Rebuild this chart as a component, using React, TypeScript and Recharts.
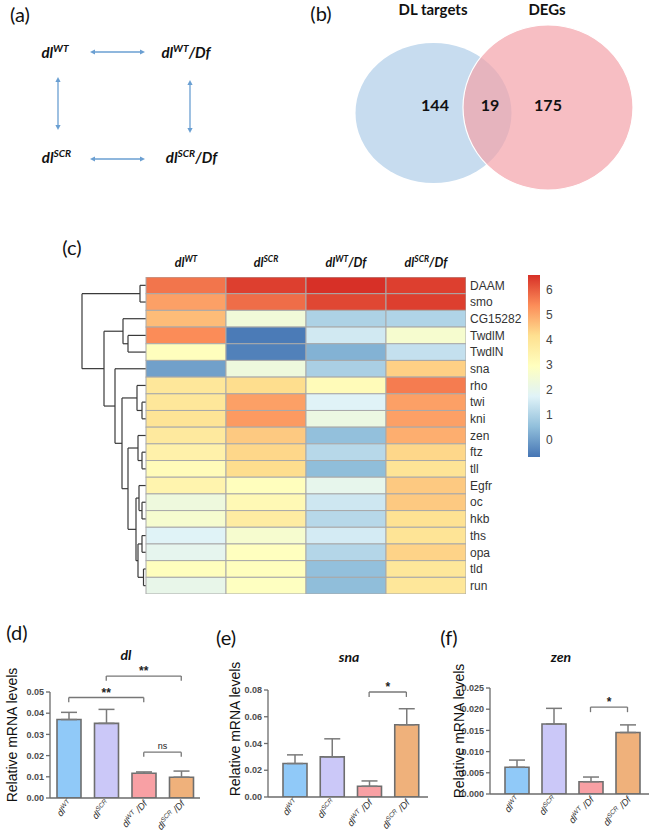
import React from 'react';
import {
  ScatterChart, Scatter, XAxis, YAxis, ReferenceLine, ReferenceDot,
  BarChart, Bar, ErrorBar, Cell,
} from 'recharts';

// ---------------- data ----------------
const genotypeKeys = ['WT', 'SCR', 'WT/Df', 'SCR/Df'];
const genotypeSup = ['WT', 'SCR', 'WT', 'SCR'];
const genotypeSuffix = ['', '', '/Df', '/Df'];

// (a) pairwise comparisons (genotype indices)
const comparisons: [number, number][] = [[0, 2], [0, 1], [2, 3], [1, 3]];

// (b) Venn
const vennSetNames = ['DL targets', 'DEGs'];
const vennCounts = [144, 19, 175];

// (c) heatmap
const genes = ['DAAM', 'smo', 'CG15282', 'TwdlM', 'TwdlN', 'sna', 'rho', 'twi', 'kni', 'zen', 'ftz', 'tll', 'Egfr', 'oc', 'hkb', 'ths', 'opa', 'tld', 'run'];
const heatWT = [5.7, 5.1, 4.7, 5.4, 3.0, 0.0, 3.9, 3.9, 4.0, 3.8, 3.5, 3.1, 3.4, 2.3, 2.6, 1.75, 1.95, 3.0, 2.05];
const heatSCR = [6.4, 5.8, 2.4, -0.6, -0.5, 2.3, 4.2, 5.1, 5.2, 4.5, 4.3, 4.2, 3.0, 3.2, 3.7, 2.6, 2.95, 3.0, 2.9];
const heatWTDf = [6.6, 6.3, 0.95, 1.5, 0.3, 0.9, 3.1, 1.75, 2.2, 0.55, 1.1, 0.5, 2.0, 1.45, 1.1, 1.55, 1.05, 0.55, 0.5];
const heatSCRDf = [6.4, 6.4, 1.0, 2.6, 1.3, 4.4, 5.6, 5.1, 5.1, 4.9, 4.3, 4.0, 4.5, 4.5, 4.1, 4.0, 4.35, 3.9, 3.9];
const colorDomain = [-0.7, 6.6];
const colorbarTicks = [0, 1, 2, 3, 4, 5, 6];
const colorStops = ['#4575b4', '#91bfdb', '#e0f3f8', '#ffffbf', '#fee090', '#fc8d59', '#d73027'];
// hclust-style merges: negative = leaf (row), positive = earlier merge; third = height
const dendroMerges: [number, number, number][] = [
  [-1, -2, 6], [-4, -5, 18], [-3, 2, 23], [-8, -9, 4], [-7, 4, 9], [-11, -12, 4],
  [-10, 6, 8], [-14, -15, 4], [-13, 8, 7], [-16, -17, 4], [-18, -19, 2.5], [10, 11, 8],
  [9, 12, 10], [7, 13, 18], [5, 14, 24], [-6, 15, 31], [3, 16, 42], [1, 17, 64],
];

// (d)-(f) qPCR
const dlMean = [0.037, 0.0352, 0.0117, 0.0098];
const dlErr = [0.0034, 0.0066, 0.0006, 0.0029];
const snaMean = [0.025, 0.030, 0.008, 0.054];
const snaErr = [0.0065, 0.0135, 0.004, 0.012];
const zenMean = [0.0063, 0.0165, 0.0029, 0.0145];
const zenErr = [0.0017, 0.0037, 0.0011, 0.0018];
const dlTicks = [0, 0.01, 0.02, 0.03, 0.04, 0.05];
const snaTicks = [0, 0.02, 0.04, 0.06, 0.08];
const zenTicks = [0, 0.005, 0.01, 0.015, 0.02, 0.025];
const dlBrackets = [
  { from: 'SCR', to: 'SCR/Df', y: 0.0575, mark: '**' },
  { from: 'WT', to: 'WT/Df', y: 0.0474, mark: '**' },
  { from: 'WT/Df', to: 'SCR/Df', y: 0.0216, mark: 'ns' },
];
const snaBrackets = [{ from: 'WT/Df', to: 'SCR/Df', y: 0.0785, mark: '*' }];
const zenBrackets = [{ from: 'WT/Df', to: 'SCR/Df', y: 0.0205, mark: '*' }];

// ---------------- styles ----------------
const FONT = '"Liberation Sans", Arial, sans-serif';
const FONT_C = 'Lato, "Open Sans", sans-serif';
const ARROW = '#6a9fd2';
const barColors = ['#90c9f8', '#cbc8f8', '#f8a0a4', '#efb17b'];

// ---------------- helpers ----------------
function hexToRgb(h: string) {
  return [1, 3, 5].map((i) => parseInt(h.slice(i, i + 2), 16));
}
function colorFor(v: number) {
  const [lo, hi] = colorDomain;
  const t = Math.max(0, Math.min(1, (v - lo) / (hi - lo))) * (colorStops.length - 1);
  const i = Math.min(colorStops.length - 2, Math.floor(t));
  const f = t - i;
  const a = hexToRgb(colorStops[i]);
  const b = hexToRgb(colorStops[i + 1]);
  const c = a.map((x, k) => Math.round(x + (b[k] - x) * f));
  return `rgb(${c[0]},${c[1]},${c[2]})`;
}

const genoTspans = (i: number, size: number, sep = '') => {
  const supSize = size * 0.68;
  const shift = size * 0.4;
  const out: any[] = [
    <tspan key="b">dl</tspan>,
    <tspan key="s" fontSize={supSize} dy={-shift}>{genotypeSup[i]}</tspan>,
  ];
  if (genotypeSuffix[i]) {
    out.push(<tspan key="f" fontSize={size} dy={shift}>{sep + genotypeSuffix[i]}</tspan>);
  }
  return out;
};

const Lbl = ({ x, y, children, style }: any) => (
  <div
    style={{
      position: 'absolute', left: x, top: y, transform: 'translate(-50%,-50%)',
      whiteSpace: 'nowrap', lineHeight: 1, ...style,
    }}
  >
    {children}
  </div>
);

// ---------------- (a) ----------------
const A_NODE_POS = [[55, 58], [56.5, 163], [186, 58], [191.5, 163]];
const A_ARROWS = [[90, 52, 145, 52], [58, 77, 58, 130], [190, 80, 190, 133], [90, 159, 145, 159]];

const ArrowShape = (p: any) => {
  const { x1, y1, x2, y2 } = p;
  const dx = x2 - x1;
  const dy = y2 - y1;
  const L = Math.hypot(dx, dy) || 1;
  const ux = dx / L;
  const uy = dy / L;
  const nx = -uy;
  const ny = ux;
  const hl = 5;
  const hw = 2.6;
  const head = (px: number, py: number, sx: number, sy: number) =>
    `${px},${py} ${px - sx * hl + nx * hw},${py - sy * hl + ny * hw} ${px - sx * hl - nx * hw},${py - sy * hl - ny * hw}`;
  return (
    <g>
      <line x1={x1 + ux * 3} y1={y1 + uy * 3} x2={x2 - ux * 3} y2={y2 - uy * 3} stroke={ARROW} strokeWidth={1.3} />
      <polygon points={head(x2, y2, ux, uy)} fill={ARROW} />
      <polygon points={head(x1, y1, -ux, -uy)} fill={ARROW} />
    </g>
  );
};

function PanelA() {
  const nodes = genotypeKeys.map((k, i) => ({ x: A_NODE_POS[i][0], y: A_NODE_POS[i][1], i }));
  return (
    <ScatterChart width={300} height={200} margin={{ top: 0, right: 0, bottom: 0, left: 0 }}>
      <XAxis type="number" dataKey="x" domain={[0, 300]} hide allowDataOverflow />
      <YAxis type="number" dataKey="y" domain={[0, 200]} reversed hide allowDataOverflow />
      {comparisons.map((c, k) => (
        <ReferenceLine
          key={k}
          segment={[{ x: A_ARROWS[k][0], y: A_ARROWS[k][1] }, { x: A_ARROWS[k][2], y: A_ARROWS[k][3] }]}
          ifOverflow="visible"
          shape={ArrowShape}
        />
      ))}
      <Scatter
        data={nodes}
        isAnimationActive={false}
        shape={(p: any) => (
          <text x={p.cx} y={p.cy} textAnchor="middle" fontFamily={FONT_C} fontWeight="bold" fontStyle="italic" fontSize={15} fill="#111">
            {genoTspans(p.payload.i, 15)}
          </text>
        )}
      />
    </ScatterChart>
  );
}

// ---------------- (b) ----------------
const VENN_POS = [[133.5, 113], [248, 107.5]];
const VENN_R = [[78, 70], [85, 82.5]];
const VENN_FILL = ['#c7dcef', '#f4a3a9'];
const VENN_OPACITY = [1, 0.7];
const VENN_TITLE_X = [133, 247];
const VENN_COUNT_X = [135, 190, 248];

function PanelB() {
  const sets = vennSetNames.map((n, i) => ({ x: VENN_POS[i][0], y: VENN_POS[i][1], i }));
  return (
    <ScatterChart width={352} height={200} margin={{ top: 0, right: 0, bottom: 0, left: 0 }}>
      <XAxis type="number" dataKey="x" domain={[0, 352]} hide allowDataOverflow />
      <YAxis type="number" dataKey="y" domain={[0, 200]} reversed hide allowDataOverflow />
      <Scatter
        data={sets}
        isAnimationActive={false}
        shape={(p: any) => (
          <ellipse
            cx={p.cx} cy={p.cy} rx={VENN_R[p.payload.i][0]} ry={VENN_R[p.payload.i][1]}
            fill={VENN_FILL[p.payload.i]} fillOpacity={VENN_OPACITY[p.payload.i]}
            stroke={p.payload.i === 1 ? '#ffffff' : 'none'} strokeWidth={1.2}
          />
        )}
      />
      {vennSetNames.map((n, i) => (
        <ReferenceDot
          key={n} x={VENN_TITLE_X[i]} y={15} ifOverflow="visible"
          shape={(p: any) => (
            <text x={p.cx} y={p.cy} textAnchor="middle" fontFamily={FONT_C} fontWeight="bold" fontSize={15} fill="#111">{n}</text>
          )}
        />
      ))}
      {vennCounts.map((c, i) => (
        <ReferenceDot
          key={i} x={VENN_COUNT_X[i]} y={111} ifOverflow="visible"
          shape={(p: any) => (
            <text x={p.cx} y={p.cy} textAnchor="middle" fontFamily={FONT_C} fontWeight="bold" fontSize={16} fill="#111">{c}</text>
          )}
        />
      ))}
    </ScatterChart>
  );
}

// ---------------- (c) ----------------
const COL_UNIT = 80;
const CELL_H = 317 / 19;
const heatCols = [heatWT, heatSCR, heatWTDf, heatSCRDf];
const heatCells = genes.flatMap((g, r) =>
  heatCols.map((col, c) => ({ x: c * COL_UNIT + COL_UNIT / 2, y: r + 0.5, v: col[r] })),
);
const headerTicks = genotypeKeys.map((k, c) => c * COL_UNIT + COL_UNIT / 2);
const rowTicks = genes.map((g, r) => r + 0.5);

const dendroSegs: number[][] = [];
(() => {
  const nodes: { y: number; h: number }[] = [];
  const ref = (k: number) => (k < 0 ? { y: -k - 0.5, h: 0 } : nodes[k - 1]);
  dendroMerges.forEach(([a, b, h]) => {
    const A = ref(a);
    const B = ref(b);
    dendroSegs.push([-A.h, A.y, -h, A.y]);
    dendroSegs.push([-B.h, B.y, -h, B.y]);
    dendroSegs.push([-h, A.y, -h, B.y]);
    nodes.push({ y: (A.y + B.y) / 2, h });
  });
})();
const dendroMax = dendroMerges[dendroMerges.length - 1][2];

const HeaderTick = (p: any) => {
  const i = headerTicks.indexOf(p.payload.value);
  return (
    <text x={p.x} y={p.y - 10} textAnchor="middle" fontFamily={FONT_C} fontWeight="bold" fontStyle="italic" fontSize={12.5} fill="#111">
      {genoTspans(i, 12.5)}
    </text>
  );
};

function Heatmap() {
  return (
    <ScatterChart width={482} height={370} margin={{ top: 12, right: 6, bottom: 16, left: 22 }}>
      <XAxis
        type="number" dataKey="x" domain={[-dendroMax, COL_UNIT * 4]} orientation="top" ticks={headerTicks}
        interval={0} height={25} axisLine={false} tickLine={false} tickSize={0} tickMargin={0}
        tick={<HeaderTick />} allowDataOverflow
      />
      <YAxis
        type="number" dataKey="y" domain={[0, genes.length]} reversed orientation="right" ticks={rowTicks}
        interval={0} width={70} axisLine={false} tickLine={false} tickSize={0} tickMargin={4}
        tickFormatter={(v: number) => genes[Math.floor(v)]}
        tick={{ fontSize: 12, fill: '#333', fontFamily: FONT }} allowDataOverflow
      />
      <Scatter
        data={heatCells}
        isAnimationActive={false}
        shape={(p: any) => (
          <rect
            x={p.cx - COL_UNIT / 2} y={p.cy - CELL_H / 2} width={COL_UNIT} height={CELL_H}
            fill={colorFor(p.payload.v)} stroke="#a9a9a9" strokeWidth={1}
          />
        )}
      />
      {dendroSegs.map((s, k) => (
        <ReferenceLine
          key={k}
          segment={[{ x: s[0], y: s[1] }, { x: s[2], y: s[3] }]}
          stroke="#3a3a3a" strokeWidth={1.2} ifOverflow="visible"
        />
      ))}
    </ScatterChart>
  );
}

function ColorBar() {
  return (
    <BarChart
      width={60} height={200} data={[{ name: 'scale', range: colorDomain }]}
      margin={{ top: 10, right: 10, bottom: 8, left: 8 }} barCategoryGap={0}
    >
      <defs>
        <linearGradient id="hmGrad" x1="0" y1="1" x2="0" y2="0">
          {colorStops.map((c, i) => (
            <stop key={i} offset={i / (colorStops.length - 1)} stopColor={c} />
          ))}
        </linearGradient>
      </defs>
      <XAxis dataKey="name" hide />
      <YAxis
        orientation="right" type="number" domain={colorDomain} ticks={colorbarTicks} interval={0}
        axisLine={false} tickLine={false} tickSize={0} tickMargin={6} width={30}
        tick={{ fontSize: 12, fill: '#444', fontFamily: FONT }} allowDataOverflow
      />
      <Bar dataKey="range" fill="url(#hmGrad)" isAnimationActive={false} />
    </BarChart>
  );
}

// ---------------- (d)-(f) ----------------
const QTick = (p: any) => {
  const i = genotypeKeys.indexOf(p.payload.value);
  return (
    <g transform={`translate(${p.x + 4},${p.y + 6}) rotate(-48)`}>
      <text x={0} y={0} textAnchor="end" fontFamily={FONT} fontStyle="italic" fontSize={9.5} fill="#333">
        {genoTspans(i, 9.5, ' ')}
      </text>
    </g>
  );
};

function QpcrChart(props: any) {
  const { means, errs, yMax, yTicks, digits, brackets, leg, width, mTop, mRight, yWidth, xHeight, padL, padR } = props;
  const data = genotypeKeys.map((k, i) => ({ name: k, v: means[i], e: [0, errs[i]] }));
  const axisStyle = { stroke: '#6b6b6b', strokeWidth: 1.3 };
  return (
    <BarChart width={width} height={193} data={data} margin={{ top: mTop, right: mRight, left: 0, bottom: 0 }}>
      <XAxis
        dataKey="name" height={xHeight} interval={0} padding={{ left: padL, right: padR }}
        axisLine={axisStyle} tickLine={false} tickSize={0} tickMargin={0} tick={<QTick />}
      />
      <YAxis
        width={yWidth} type="number" domain={[0, yMax]} ticks={yTicks} interval={0}
        tickFormatter={(v: number) => v.toFixed(digits)} axisLine={axisStyle} tickLine={axisStyle}
        tickSize={4} tickMargin={2} allowDataOverflow
        tick={{ fontSize: 9, fill: '#4d4d4d', fontWeight: 'bold', fontFamily: FONT }}
      />
      <Bar dataKey="v" barSize={24} stroke="#6e6e6e" strokeWidth={1.6} isAnimationActive={false}>
        {data.map((d, i) => (
          <Cell key={i} fill={barColors[i]} />
        ))}
        <ErrorBar dataKey="e" direction="y" width={8} stroke="#7a7a7a" strokeWidth={1.5} />
      </Bar>
      {brackets.map((b: any, k: number) => (
        <ReferenceLine
          key={`h${k}`} segment={[{ x: b.from, y: b.y }, { x: b.to, y: b.y }]}
          stroke="#777" strokeWidth={1.3} ifOverflow="visible"
          label={{
            value: b.mark, position: 'top', offset: b.mark === 'ns' ? 3 : 1,
            fontSize: b.mark === 'ns' ? 9 : 12, fill: '#222', fontFamily: FONT,
            fontWeight: b.mark === 'ns' ? 'normal' : 'bold',
          }}
        />
      ))}
      {brackets.map((b: any, k: number) => (
        <ReferenceLine
          key={`l${k}`} segment={[{ x: b.from, y: b.y }, { x: b.from, y: b.y - leg }]}
          stroke="#777" strokeWidth={1.3} ifOverflow="visible"
        />
      ))}
      {brackets.map((b: any, k: number) => (
        <ReferenceLine
          key={`r${k}`} segment={[{ x: b.to, y: b.y }, { x: b.to, y: b.y - leg }]}
          stroke="#777" strokeWidth={1.3} ifOverflow="visible"
        />
      ))}
    </BarChart>
  );
}

const panelLabel = { fontFamily: FONT_C, fontSize: 20, color: '#111' };
const geneTitle = { fontFamily: FONT_C, fontSize: 14, fontWeight: 'bold', fontStyle: 'italic', color: '#111' };
const yLabel = { fontFamily: FONT, fontSize: 14, color: '#111', transform: 'translate(-50%,-50%) rotate(-90deg)' };

export default function App() {
  return (
    <div style={{ position: 'absolute', left: 0, top: 0, width: 652, height: 833, background: '#fff', overflow: 'hidden' }}>
      <div style={{ position: 'absolute', left: 0, top: 0 }}><PanelA /></div>
      <div style={{ position: 'absolute', left: 300, top: 0 }}><PanelB /></div>
      <div style={{ position: 'absolute', left: 60, top: 240 }}><Heatmap /></div>
      <div style={{ position: 'absolute', left: 520, top: 265 }}><ColorBar /></div>

      <div style={{ position: 'absolute', left: 0, top: 640 }}>
        <QpcrChart means={dlMean} errs={dlErr} yMax={0.05} yTicks={dlTicks} digits={2} brackets={dlBrackets}
          leg={0.0022} width={205} mTop={52} mRight={5} yWidth={50} xHeight={35} padL={0} padR={0} />
      </div>
      <div style={{ position: 'absolute', left: 215, top: 640 }}>
        <QpcrChart means={snaMean} errs={snaErr} yMax={0.08} yTicks={snaTicks} digits={2} brackets={snaBrackets}
          leg={0.0037} width={218} mTop={50} mRight={5} yWidth={53} xHeight={36} padL={8} padR={3} />
      </div>
      <div style={{ position: 'absolute', left: 432, top: 640 }}>
        <QpcrChart means={zenMean} errs={zenErr} yMax={0.025} yTicks={zenTicks} digits={3} brackets={zenBrackets}
          leg={0.0012} width={220} mTop={48} mRight={3} yWidth={58} xHeight={39} padL={8} padR={3} />
      </div>

      <Lbl x={20} y={14} style={panelLabel}>(a)</Lbl>
      <Lbl x={321} y={13} style={panelLabel}>(b)</Lbl>
      <Lbl x={72} y={247} style={panelLabel}>(c)</Lbl>
      <Lbl x={17} y={632} style={panelLabel}>(d)</Lbl>
      <Lbl x={226} y={637} style={panelLabel}>(e)</Lbl>
      <Lbl x={449} y={637} style={panelLabel}>(f)</Lbl>

      <Lbl x={126} y={655} style={geneTitle}>dl</Lbl>
      <Lbl x={349} y={657} style={geneTitle}>sna</Lbl>
      <Lbl x={561} y={657} style={geneTitle}>zen</Lbl>

      <Lbl x={12} y={735} style={yLabel}>Relative mRNA levels</Lbl>
      <Lbl x={235} y={729} style={yLabel}>Relative mRNA levels</Lbl>
      <Lbl x={459} y={731} style={yLabel}>Relative mRNA levels</Lbl>
    </div>
  );
}
